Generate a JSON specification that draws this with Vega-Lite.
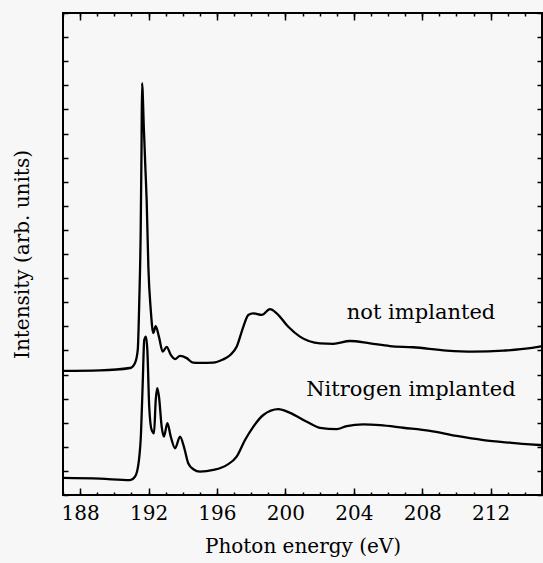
{
  "$schema": "https://vega.github.io/schema/vega-lite/v6.json",
  "width": 479,
  "height": 482,
  "autosize": "none",
  "padding": {"left": 63, "top": 13, "right": 1, "bottom": 68},
  "background": "#f7f7f7",
  "config": {
    "view": {"stroke": "black", "strokeWidth": 2},
    "font": "DejaVu Serif",
    "axis": {
      "domain": false,
      "grid": false,
      "tickColor": "black",
      "tickWidth": 1.5,
      "labelColor": "black",
      "titleColor": "black",
      "labelFont": "DejaVu Serif",
      "titleFont": "DejaVu Serif",
      "labelFontSize": 20,
      "titleFontSize": 20,
      "titleFontWeight": "normal"
    }
  },
  "datasets": {
    "spectra": [
      {"sample": "not implanted", "energy": 187.0, "intensity": 5.15},
      {"sample": "not implanted", "energy": 189.16, "intensity": 5.17},
      {"sample": "not implanted", "energy": 190.92, "intensity": 5.27},
      {"sample": "not implanted", "energy": 191.21, "intensity": 5.48},
      {"sample": "not implanted", "energy": 191.37, "intensity": 6.02},
      {"sample": "not implanted", "energy": 191.46, "intensity": 8.09},
      {"sample": "not implanted", "energy": 191.54, "intensity": 10.87},
      {"sample": "not implanted", "energy": 191.59, "intensity": 14.32},
      {"sample": "not implanted", "energy": 191.62, "intensity": 17.09},
      {"sample": "not implanted", "energy": 191.73, "intensity": 15.15},
      {"sample": "not implanted", "energy": 191.82, "intensity": 13.49},
      {"sample": "not implanted", "energy": 191.89, "intensity": 12.24},
      {"sample": "not implanted", "energy": 191.99, "intensity": 9.46},
      {"sample": "not implanted", "energy": 192.13, "intensity": 7.68},
      {"sample": "not implanted", "energy": 192.28, "intensity": 6.72},
      {"sample": "not implanted", "energy": 192.42, "intensity": 7.01},
      {"sample": "not implanted", "energy": 192.61, "intensity": 6.56},
      {"sample": "not implanted", "energy": 192.83, "intensity": 5.95},
      {"sample": "not implanted", "energy": 193.06, "intensity": 6.15},
      {"sample": "not implanted", "energy": 193.30, "intensity": 5.81},
      {"sample": "not implanted", "energy": 193.55, "intensity": 5.64},
      {"sample": "not implanted", "energy": 193.84, "intensity": 5.77},
      {"sample": "not implanted", "energy": 194.23, "intensity": 5.68},
      {"sample": "not implanted", "energy": 194.60, "intensity": 5.49},
      {"sample": "not implanted", "energy": 195.01, "intensity": 5.48},
      {"sample": "not implanted", "energy": 195.77, "intensity": 5.49},
      {"sample": "not implanted", "energy": 196.35, "intensity": 5.62},
      {"sample": "not implanted", "energy": 196.76, "intensity": 5.80},
      {"sample": "not implanted", "energy": 197.15, "intensity": 6.15},
      {"sample": "not implanted", "energy": 197.54, "intensity": 6.98},
      {"sample": "not implanted", "energy": 197.83, "intensity": 7.47},
      {"sample": "not implanted", "energy": 198.12, "intensity": 7.54},
      {"sample": "not implanted", "energy": 198.62, "intensity": 7.47},
      {"sample": "not implanted", "energy": 199.10, "intensity": 7.71},
      {"sample": "not implanted", "energy": 199.49, "intensity": 7.54},
      {"sample": "not implanted", "energy": 200.17, "intensity": 6.98},
      {"sample": "not implanted", "energy": 200.85, "intensity": 6.57},
      {"sample": "not implanted", "energy": 202.02, "intensity": 6.29},
      {"sample": "not implanted", "energy": 202.80, "intensity": 6.27},
      {"sample": "not implanted", "energy": 203.78, "intensity": 6.39},
      {"sample": "not implanted", "energy": 204.95, "intensity": 6.29},
      {"sample": "not implanted", "energy": 206.11, "intensity": 6.18},
      {"sample": "not implanted", "energy": 207.46, "intensity": 6.13},
      {"sample": "not implanted", "energy": 209.43, "intensity": 5.99},
      {"sample": "not implanted", "energy": 210.98, "intensity": 5.95},
      {"sample": "not implanted", "energy": 212.74, "intensity": 5.99},
      {"sample": "not implanted", "energy": 214.30, "intensity": 6.09},
      {"sample": "not implanted", "energy": 215.0, "intensity": 6.18},
      {"sample": "Nitrogen implanted", "energy": 187.0, "intensity": 0.71},
      {"sample": "Nitrogen implanted", "energy": 189.16, "intensity": 0.68},
      {"sample": "Nitrogen implanted", "energy": 190.92, "intensity": 0.62},
      {"sample": "Nitrogen implanted", "energy": 191.21, "intensity": 0.76},
      {"sample": "Nitrogen implanted", "energy": 191.44, "intensity": 1.45},
      {"sample": "Nitrogen implanted", "energy": 191.56, "intensity": 2.56},
      {"sample": "Nitrogen implanted", "energy": 191.66, "intensity": 4.65},
      {"sample": "Nitrogen implanted", "energy": 191.75, "intensity": 6.43},
      {"sample": "Nitrogen implanted", "energy": 191.85, "intensity": 6.57},
      {"sample": "Nitrogen implanted", "energy": 191.93, "intensity": 6.02},
      {"sample": "Nitrogen implanted", "energy": 192.04, "intensity": 3.66},
      {"sample": "Nitrogen implanted", "energy": 192.18, "intensity": 2.70},
      {"sample": "Nitrogen implanted", "energy": 192.32, "intensity": 2.56},
      {"sample": "Nitrogen implanted", "energy": 192.42, "intensity": 3.94},
      {"sample": "Nitrogen implanted", "energy": 192.51, "intensity": 4.43},
      {"sample": "Nitrogen implanted", "energy": 192.61, "intensity": 4.08},
      {"sample": "Nitrogen implanted", "energy": 192.77, "intensity": 2.83},
      {"sample": "Nitrogen implanted", "energy": 192.90, "intensity": 2.42},
      {"sample": "Nitrogen implanted", "energy": 193.10, "intensity": 2.98},
      {"sample": "Nitrogen implanted", "energy": 193.30, "intensity": 2.42},
      {"sample": "Nitrogen implanted", "energy": 193.55, "intensity": 1.94},
      {"sample": "Nitrogen implanted", "energy": 193.84, "intensity": 2.42},
      {"sample": "Nitrogen implanted", "energy": 194.07, "intensity": 2.00},
      {"sample": "Nitrogen implanted", "energy": 194.32, "intensity": 1.32},
      {"sample": "Nitrogen implanted", "energy": 194.62, "intensity": 1.07},
      {"sample": "Nitrogen implanted", "energy": 195.01, "intensity": 0.97},
      {"sample": "Nitrogen implanted", "energy": 195.79, "intensity": 1.04},
      {"sample": "Nitrogen implanted", "energy": 196.57, "intensity": 1.24},
      {"sample": "Nitrogen implanted", "energy": 197.15, "intensity": 1.59},
      {"sample": "Nitrogen implanted", "energy": 197.64, "intensity": 2.28},
      {"sample": "Nitrogen implanted", "energy": 198.12, "intensity": 2.83},
      {"sample": "Nitrogen implanted", "energy": 198.71, "intensity": 3.32},
      {"sample": "Nitrogen implanted", "energy": 199.59, "intensity": 3.56},
      {"sample": "Nitrogen implanted", "energy": 200.27, "intensity": 3.41},
      {"sample": "Nitrogen implanted", "energy": 201.25, "intensity": 3.04},
      {"sample": "Nitrogen implanted", "energy": 202.02, "intensity": 2.79},
      {"sample": "Nitrogen implanted", "energy": 203.00, "intensity": 2.73},
      {"sample": "Nitrogen implanted", "energy": 203.58, "intensity": 2.86},
      {"sample": "Nitrogen implanted", "energy": 204.55, "intensity": 2.93},
      {"sample": "Nitrogen implanted", "energy": 205.53, "intensity": 2.90},
      {"sample": "Nitrogen implanted", "energy": 206.89, "intensity": 2.79},
      {"sample": "Nitrogen implanted", "energy": 208.45, "intensity": 2.66},
      {"sample": "Nitrogen implanted", "energy": 210.01, "intensity": 2.45},
      {"sample": "Nitrogen implanted", "energy": 211.57, "intensity": 2.28},
      {"sample": "Nitrogen implanted", "energy": 213.13, "intensity": 2.17},
      {"sample": "Nitrogen implanted", "energy": 214.30, "intensity": 2.10},
      {"sample": "Nitrogen implanted", "energy": 215.0, "intensity": 2.07}
    ],
    "labels": [
      {"label": "not implanted", "energy": 207.93, "intensity": 7.55},
      {"label": "Nitrogen implanted", "energy": 207.34, "intensity": 4.36}
    ]
  },
  "layer": [
    {
      "data": {"name": "spectra"},
      "transform": [{"filter": "datum.sample == 'not implanted'"}],
      "mark": {"type": "line", "color": "black", "strokeWidth": 2.3, "interpolate": "monotone"},
      "encoding": {
        "x": {
          "field": "energy", "type": "quantitative",
          "scale": {"domain": [187, 215], "nice": false, "zero": false},
          "axis": {"orient": "bottom", "values": [188, 192, 196, 200, 204, 208, 212], "tickSize": -7, "labelPadding": 15, "title": "Photon energy (eV)", "titlePadding": 13}
        },
        "y": {
          "field": "intensity", "type": "quantitative",
          "scale": {"domain": [0, 20], "nice": false, "zero": false},
          "axis": {"orient": "left", "values": [0,1,2,3,4,5,6,7,8,9,10,11,12,13,14,15,16,17,18,19,20], "tickSize": -5, "labels": false, "title": "Intensity (arb. units)", "titlePadding": 30}
        }
      }
    },
    {
      "data": {"name": "spectra"},
      "transform": [{"filter": "datum.sample == 'Nitrogen implanted'"}],
      "mark": {"type": "line", "color": "black", "strokeWidth": 2.3, "interpolate": "monotone"},
      "encoding": {
        "x": {
          "field": "energy", "type": "quantitative",
          "axis": {"orient": "top", "values": [188, 192, 196, 200, 204, 208, 212], "tickSize": -7, "labels": false, "title": null}
        },
        "y": {
          "field": "intensity", "type": "quantitative",
          "axis": {"orient": "right", "values": [0,1,2,3,4,5,6,7,8,9,10,11,12,13,14,15,16,17,18,19,20], "tickSize": -5, "labels": false, "title": null}
        }
      }
    },
    {
      "data": {"name": "labels"},
      "transform": [{"filter": "datum.label == 'not implanted'"}],
      "mark": {"type": "text", "color": "black", "font": "DejaVu Serif", "fontSize": 21, "align": "center", "baseline": "middle"},
      "encoding": {
        "x": {
          "field": "energy", "type": "quantitative",
          "axis": {"orient": "bottom", "values": [187,188,189,190,191,192,193,194,195,196,197,198,199,200,201,202,203,204,205,206,207,208,209,210,211,212,213,214,215], "tickSize": -3, "labels": false, "title": null}
        },
        "y": {"field": "intensity", "type": "quantitative", "axis": null},
        "text": {"field": "label"}
      }
    },
    {
      "data": {"name": "labels"},
      "transform": [{"filter": "datum.label == 'Nitrogen implanted'"}],
      "mark": {"type": "text", "color": "black", "font": "DejaVu Serif", "fontSize": 21, "align": "center", "baseline": "middle"},
      "encoding": {
        "x": {
          "field": "energy", "type": "quantitative",
          "axis": {"orient": "top", "values": [187,188,189,190,191,192,193,194,195,196,197,198,199,200,201,202,203,204,205,206,207,208,209,210,211,212,213,214,215], "tickSize": -3, "labels": false, "title": null}
        },
        "y": {"field": "intensity", "type": "quantitative", "axis": null},
        "text": {"field": "label"}
      }
    }
  ],
  "resolve": {"axis": {"x": "independent", "y": "independent"}}
}
